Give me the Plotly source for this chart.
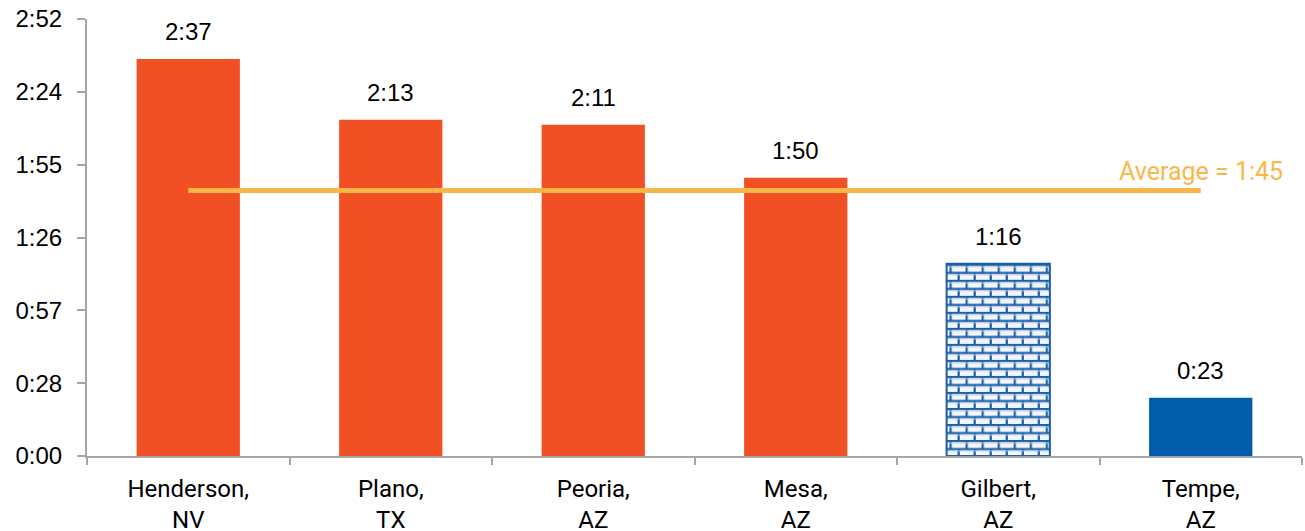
import base64
import plotly.graph_objects as go

# Response time in minutes per city
cities = ["Henderson,<br>NV", "Plano,<br>TX", "Peoria,<br>AZ", "Mesa,<br>AZ", "Gilbert,<br>AZ", "Tempe,<br>AZ"]
minutes = [157, 133, 131, 110, 76, 23]
average_minutes = 105
bar_colors = ["#F05023", "#F05023", "#F05023", "#F05023", "rgba(0,0,0,0)", "#005DAA"]
line_colors = ["#F05023", "#F05023", "#F05023", "#F05023", "#1B5FA7", "#005DAA"]

tick_step = 28.8
tick_labels = ["0:00", "0:28", "0:57", "1:26", "1:55", "2:24", "2:52"]
tick_vals = [i * tick_step for i in range(len(tick_labels))]
y_max = tick_vals[-1]


def hmm(m):
    return f"{int(m) // 60}:{int(m) % 60:02d}"


NUM_FONT = "Liberation Sans"
TXT_FONT = "Roboto"
BARGAP = 0.49

fig = go.Figure()
fig.add_trace(go.Bar(
    x=cities, y=minutes,
    marker=dict(color=bar_colors, line=dict(color=line_colors, width=[0, 0, 0, 0, 2, 0])),
    hoverinfo="skip",
))
fig.add_trace(go.Scatter(
    x=cities, y=[average_minutes] * len(cities), mode="lines",
    line=dict(color="#F9B74A", width=5), hoverinfo="skip",
))

# value labels above the bars
for c, m in zip(cities, minutes):
    fig.add_annotation(x=c, y=m, text=hmm(m), showarrow=False, yanchor="bottom",
                       yshift=12, font=dict(family=NUM_FONT, size=24, color="#000000"))

fig.add_annotation(x=cities[-1], y=average_minutes, text=f"Average = {hmm(average_minutes)}",
                   showarrow=False, yanchor="bottom", yshift=2,
                   font=dict(family=TXT_FONT, size=25, color="#F9B74A"))

# brick fill for the Gilbert bar
gi = 4
w, h = 103, 192
svg = f'''<svg xmlns="http://www.w3.org/2000/svg" width="{w}" height="{h}" viewBox="0 0 {w} {h}" preserveAspectRatio="none">
<defs><pattern id="b" width="16" height="16" patternUnits="userSpaceOnUse">
<rect width="16" height="16" fill="#F3F7FC"/>
<path d="M0 1H16M0 9H16M4 0V9M12 8V16" stroke="#1B5FA7" stroke-width="2.2"/>
<path d="M0 3H16M0 11H16" stroke="#BFD3EA" stroke-width="1"/>
</pattern></defs><rect width="{w}" height="{h}" fill="url(#b)"/></svg>'''
src = "data:image/svg+xml;base64," + base64.b64encode(svg.encode()).decode()
bw = 1 - BARGAP
fig.add_layout_image(source=src, xref="x", yref="y", x=gi - bw / 2, y=minutes[gi],
                     sizex=bw, sizey=minutes[gi], xanchor="left", yanchor="top",
                     sizing="stretch", layer="below")

fig.update_layout(
    width=1305, height=531,
    margin=dict(l=87, r=3, t=19, b=75),
    paper_bgcolor="white", plot_bgcolor="rgba(0,0,0,0)",
    showlegend=False, bargap=BARGAP,
    font=dict(family=NUM_FONT, size=20, color="#000000"),
)
fig.update_xaxes(
    type="category", showline=True, linecolor="#A6A6A6", linewidth=2,
    ticks="outside", tickson="boundaries", ticklen=7, tickcolor="#A6A6A6", tickwidth=2,
    tickfont=dict(family=TXT_FONT, size=24), ticklabelstandoff=10, showgrid=False,
    automargin=False,
)
fig.update_yaxes(
    range=[0, y_max], tickvals=tick_vals, ticktext=tick_labels,
    showline=True, linecolor="#A6A6A6", linewidth=2,
    ticks="outside", ticklen=8, tickcolor="#A6A6A6", tickwidth=2,
    tickfont=dict(family=NUM_FONT, size=24), ticklabelstandoff=10,
    showgrid=False, zeroline=False, automargin=False,
)

fig.write_html("out.html")
